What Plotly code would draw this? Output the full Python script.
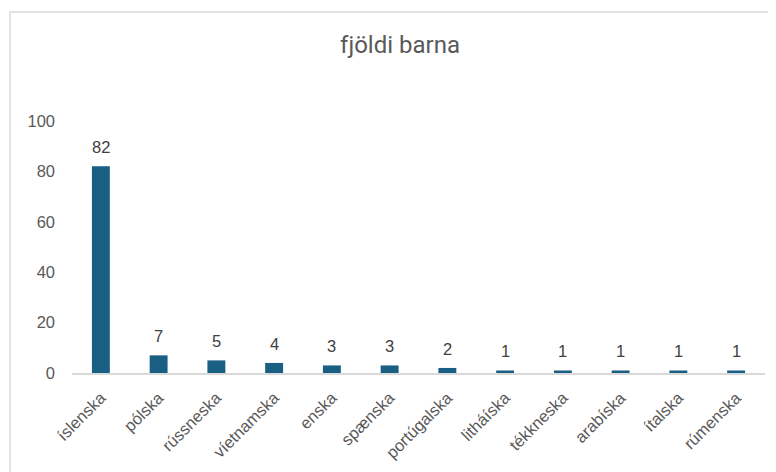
import plotly.graph_objects as go

categories = ["íslenska", "pólska", "rússneska", "víetnamska", "enska", "spænska",
              "portúgalska", "litháíska", "tékkneska", "arabíska", "ítalska", "rúmenska"]
values = [82, 7, 5, 4, 3, 3, 2, 1, 1, 1, 1, 1]
y_ticks = [0, 20, 40, 60, 80, 100]

W, H = 776, 472
OFF = 8  # page body margin
L, T = 72 - OFF, 121 - OFF
R = W - (765 - OFF)
B = H - (373 - OFF)

fig = go.Figure(go.Bar(
    x=categories, y=values,
    marker=dict(color="#195E83", line=dict(width=0)),
    cliponaxis=False,
))

for c, v in zip(categories, values):
    fig.add_annotation(x=c, y=v, text=str(v), showarrow=False, yanchor="bottom",
                       yshift=8, font=dict(color="#404040", size=16.5, family="Liberation Sans"))

pw = W - L - R
ph = H - T - B
y0_pix = 373 - OFF
fig.add_shape(type="rect", xref="paper", yref="paper",
              x0=(10 - OFF - L) / pw, x1=(800 - L) / pw,
              y0=(y0_pix - 500) / ph, y1=(y0_pix - (12 - OFF)) / ph,
              line=dict(color="#D9D9D9", width=1.5), layer="below")

fig.update_layout(
    width=W, height=H,
    margin=dict(l=L, r=R, t=T, b=B, autoexpand=False),
    paper_bgcolor="white", plot_bgcolor="white",
    bargap=0.69,
    showlegend=False,
    title=dict(text="fjöldi barna", x=(400 - OFF) / W, xanchor="center", y=1 - (45 - OFF) / H,
               yanchor="middle",
               font=dict(size=24, color="#595959", family="Roboto")),
    xaxis=dict(tickangle=-45, automargin=False, ticklabelstandoff=7,
               tickfont=dict(size=16.5, color="#595959", family="Liberation Sans"),
               showline=True, linecolor="#D9D9D9", linewidth=1.5, ticks="", showgrid=False),
    yaxis=dict(range=[0, 100], tickvals=y_ticks, showgrid=False, zeroline=False, automargin=False,
               ticklabelstandoff=16,
               tickfont=dict(size=16.5, color="#595959", family="Liberation Sans"),
               ticks="", showline=False),
)

fig.write_html("out.html")
